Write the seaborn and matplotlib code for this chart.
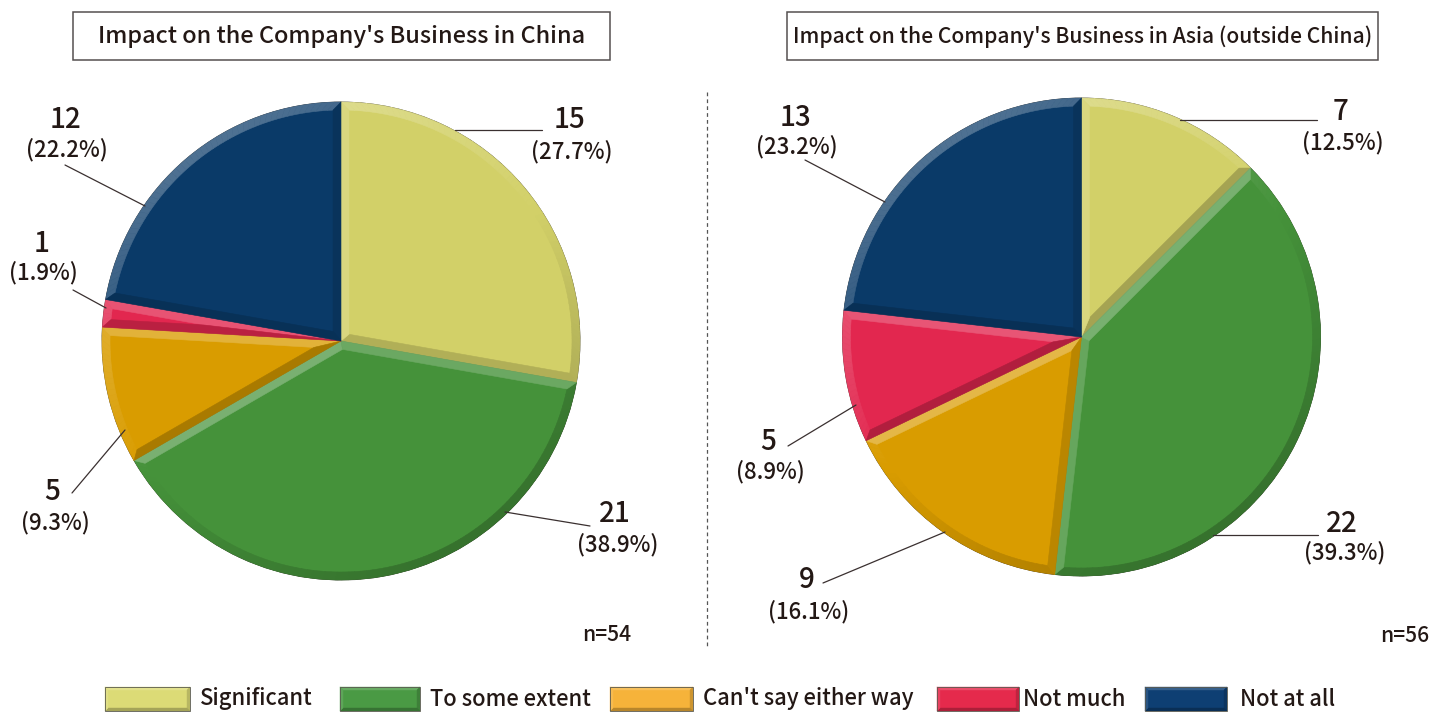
import numpy as np
import matplotlib
matplotlib.use("Agg")
import matplotlib.pyplot as plt
from matplotlib.collections import PolyCollection
from matplotlib.patches import Rectangle
from matplotlib.colors import to_rgb
import seaborn as sns

# ---- data -------------------------------------------------------------
categories = ["Significant", "To some extent", "Can't say either way",
              "Not much", "Not at all"]
china_counts = [15, 21, 5, 1, 12]
asia_counts = [7, 22, 9, 5, 13]
china_pct = ["27.7%", "38.9%", "9.3%", "1.9%", "22.2%"]
asia_pct = ["12.5%", "39.3%", "16.1%", "8.9%", "23.2%"]
panel_titles = ["Impact on the Company's Business in China",
                "Impact on the Company's Business in Asia (outside China)"]
sample_sizes = ["n=54", "n=56"]

slice_colors = ["#D2D068", "#45923A", "#D99C00", "#E2274F", "#0A3A68"]
legend_colors = ["#DCDB76", "#4A9A44", "#F6B33A", "#E52A4C", "#0E3F73"]

# ---- style ------------------------------------------------------------
sns.set_theme(style="white")
plt.rcParams["font.family"] = ["Noto Sans CJK JP", "DejaVu Sans"]
TEXT = "#231815"
WEIGHT = "medium"

W, H = 1448, 713
fig = plt.figure(figsize=(W / 100, H / 100), dpi=100)
ax = fig.add_axes([0, 0, 1, 1])


def Y(y):
    """Top-down pixel row to data y."""
    return H - y


LIGHT = np.array([-0.55, 0.83])
LIGHT /= np.linalg.norm(LIGHT)


def unit(a):
    return np.array([np.cos(a), np.sin(a)])


def shade(rgb, s, hi=0.28, lo=0.22):
    rgb = np.asarray(rgb)
    if s >= 0:
        return tuple(rgb + (1 - rgb) * hi * s)
    return tuple(rgb * (1 + lo * s))


def bevel_wedge(ax, wedge, d, base):
    """Light/dark chamfer along the edges of a pie wedge."""
    C = np.asarray(wedge.center, float)
    r = wedge.r
    a1, a2 = np.radians(wedge.theta1), np.radians(wedge.theta2)
    h = (a2 - a1) / 2
    ri = r - d
    alpha = np.arcsin(d / ri)
    P = C + d / np.sin(h) * unit(a1 + h)
    rgb = to_rgb(base)
    n = max(3, int(np.degrees(a2 - a1) / 1.5))
    ts = np.linspace(0, 1, n + 1)
    ao = a1 + ts * (a2 - a1)
    ai = (a1 + alpha) + ts * ((a2 - alpha) - (a1 + alpha))
    polys, cols = [], []
    for i in range(n):
        polys.append([C + r * unit(ao[i]), C + r * unit(ao[i + 1]),
                      C + ri * unit(ai[i + 1]), C + ri * unit(ai[i])])
        s = unit((ao[i] + ao[i + 1]) / 2) @ LIGHT
        cols.append(shade(rgb, s))
    A1, B1 = C + r * unit(a1), C + ri * unit(a1 + alpha)
    A2, B2 = C + r * unit(a2), C + ri * unit(a2 - alpha)
    polys.append([C, A1, B1, P])
    cols.append(shade(rgb, unit(a1 - np.pi / 2) @ LIGHT))
    polys.append([C, P, B2, A2])
    cols.append(shade(rgb, unit(a2 + np.pi / 2) @ LIGHT))
    ax.add_collection(PolyCollection(polys, facecolors=cols, edgecolors=cols,
                                     linewidths=0.4, zorder=3))


def bevel_box(ax, x0, y0, x1, y1, d, base):
    rgb = to_rgb(base)
    ax.add_patch(Rectangle((x0, y0), x1 - x0, y1 - y0, facecolor=base,
                           edgecolor="none", zorder=3))
    outer = [(x0, y1), (x1, y1), (x1, y0), (x0, y0)]
    inner = [(x0 + d, y1 - d), (x1 - d, y1 - d), (x1 - d, y0 + d), (x0 + d, y0 + d)]
    normals = [np.array([0, 1]), np.array([1, 0]), np.array([0, -1]), np.array([-1, 0])]
    polys, cols = [], []
    for i in range(4):
        j = (i + 1) % 4
        polys.append([outer[i], outer[j], inner[j], inner[i]])
        cols.append(shade(rgb, normals[i] @ LIGHT, hi=0.2, lo=0.3))
    ax.add_collection(PolyCollection(polys, facecolors=cols, edgecolors=cols,
                                     linewidths=0.3, zorder=4))
    ax.add_patch(Rectangle((x0, y0), x1 - x0, y1 - y0, facecolor="none",
                           edgecolor="#5a5a50", linewidth=0.6, zorder=5))


# ---- pies -------------------------------------------------------------
pies = [
    dict(counts=china_counts, pct=china_pct, center=(341, 341), r=239,
         title_box=(73, 12, 610, 60), n_xy=(607, 635),
         labels=[((570, 120), (572, 152), (455, 130), (542, 130)),
                 ((615, 513), (618, 545), (505, 512), (590, 526)),
                 ((52, 492), (55, 523), (125, 430), (72, 493)),
                 ((42, 243), (43, 273), (106, 308), (73, 290)),
                 ((65, 120), (67, 150), (145, 206), (65, 165))]),
    dict(counts=asia_counts, pct=asia_pct, center=(1081.5, 337), r=239,
         title_box=(787, 12, 1378, 60), n_xy=(1405, 636),
         labels=[((1340, 112), (1343, 143), (1180, 120), (1317, 120)),
                 ((1342, 523), (1345, 553), (1213, 535), (1318, 535)),
                 ((807, 580), (809, 612), (945, 532), (823, 583)),
                 ((768, 442), (770, 472), (856, 405), (788, 446)),
                 ((795, 117), (797, 147), (885, 202), (805, 160))]),
]

title_sizes = [16.9, 15.2]

for k, p in enumerate(pies):
    cx, cy = p["center"]
    wedges, _ = ax.pie(p["counts"], colors=slice_colors, startangle=90,
                       counterclock=False, center=(cx, Y(cy)), radius=p["r"],
                       wedgeprops=dict(edgecolor="#3a3630", linewidth=0.6),
                       frame=True)
    for w, c in zip(wedges, slice_colors):
        w.set_zorder(2)
        bevel_wedge(ax, w, 8, c)

    for (num_xy, pct_xy, l0, l1), cnt, pc in zip(p["labels"], p["counts"], p["pct"]):
        ax.text(num_xy[0], Y(num_xy[1]), f"{cnt}", ha="center", va="center",
                fontsize=20, color=TEXT, fontweight=WEIGHT, zorder=6)
        ax.text(pct_xy[0], Y(pct_xy[1]), f"({pc})", ha="center", va="center",
                fontsize=16, color=TEXT, fontweight=WEIGHT, zorder=6)
        ax.plot([l0[0], l1[0]], [Y(l0[1]), Y(l1[1])], color="#3a3030",
                linewidth=0.9, zorder=5)

    bx0, by0, bx1, by1 = p["title_box"]
    ax.add_patch(Rectangle((bx0, Y(by1)), bx1 - bx0, by1 - by0, facecolor="white",
                           edgecolor="#555050", linewidth=1.1, zorder=5))
    ax.text((bx0 + bx1) / 2, Y((by0 + by1) / 2 + 1), panel_titles[k],
            ha="center", va="center", fontsize=title_sizes[k], color=TEXT,
            fontweight=WEIGHT, zorder=6)

    ax.text(p["n_xy"][0], Y(p["n_xy"][1]), sample_sizes[k], ha="center",
            va="center", fontsize=15.2, color=TEXT, fontweight=WEIGHT, zorder=6)

# dashed divider between the two panels
ax.plot([707, 707], [Y(92), Y(647)], color="#555555", linewidth=0.9,
        linestyle=(0, (3, 2.5)), zorder=1)

# ---- legend -----------------------------------------------------------
legend_boxes = [(105, 190, 200), (340, 420, 430), (610, 693, 703),
                (937, 1019, 1023), (1145, 1227, 1240)]
for (x0, x1, tx), c, lab in zip(legend_boxes, legend_colors, categories):
    bevel_box(ax, x0, Y(711), x1, Y(687), 3, c)
    ax.text(tx, Y(699), lab, ha="left", va="center", fontsize=15.8,
            color=TEXT, fontweight=WEIGHT, zorder=6)

ax.set_xlim(0, W)
ax.set_ylim(0, H)
ax.set_aspect("equal")
ax.axis("off")
fig.savefig("out.png", dpi=100, facecolor="white")
